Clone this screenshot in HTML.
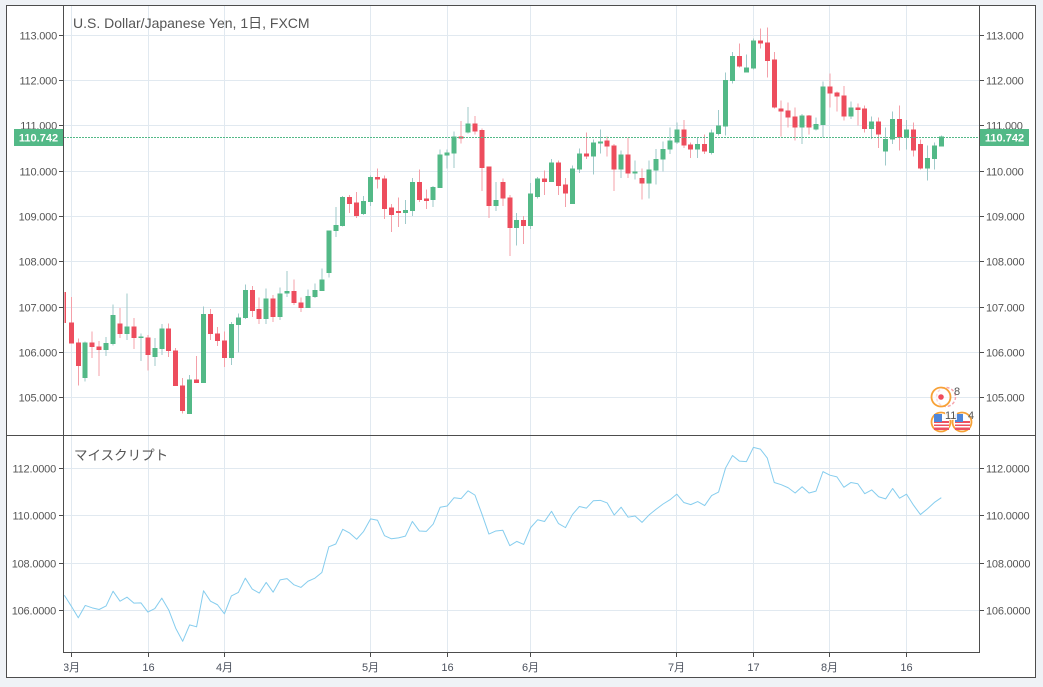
<!DOCTYPE html>
<html><head><meta charset="utf-8"><style>
html,body{margin:0;padding:0;background:#eff2f6;}
svg{display:block;font-family:"Liberation Sans","Noto Sans CJK JP",sans-serif;}
</style></head><body>
<svg width="1043" height="687" viewBox="0 0 1043 687" xmlns="http://www.w3.org/2000/svg">
<defs>
<clipPath id="cm"><rect x="64" y="6" width="915" height="429"/></clipPath>
<clipPath id="cl"><rect x="64" y="436" width="915" height="216"/></clipPath>
<clipPath id="ct"><rect x="64" y="653" width="915" height="24"/></clipPath>
</defs>
<rect x="0" y="0" width="1043" height="687" fill="#eff2f6"/>
<rect x="6.5" y="5.5" width="1029" height="672" fill="#ffffff"/>
<!-- grid -->
<g stroke="#e1e9f0" stroke-width="1" shape-rendering="crispEdges">
<line x1="64" x2="979" y1="35.5" y2="35.5"/><line x1="64" x2="979" y1="80.5" y2="80.5"/><line x1="64" x2="979" y1="125.5" y2="125.5"/><line x1="64" x2="979" y1="171.5" y2="171.5"/><line x1="64" x2="979" y1="216.5" y2="216.5"/><line x1="64" x2="979" y1="261.5" y2="261.5"/><line x1="64" x2="979" y1="307.5" y2="307.5"/><line x1="64" x2="979" y1="352.5" y2="352.5"/><line x1="64" x2="979" y1="397.5" y2="397.5"/>
<line x1="64" x2="979" y1="468.5" y2="468.5"/><line x1="64" x2="979" y1="515.5" y2="515.5"/><line x1="64" x2="979" y1="563.5" y2="563.5"/><line x1="64" x2="979" y1="610.5" y2="610.5"/>
<line x1="71.5" x2="71.5" y1="6" y2="652"/><line x1="148.5" x2="148.5" y1="6" y2="652"/><line x1="224.5" x2="224.5" y1="6" y2="652"/><line x1="370.5" x2="370.5" y1="6" y2="652"/><line x1="447.5" x2="447.5" y1="6" y2="652"/><line x1="530.5" x2="530.5" y1="6" y2="652"/><line x1="676.5" x2="676.5" y1="6" y2="652"/><line x1="753.5" x2="753.5" y1="6" y2="652"/><line x1="829.5" x2="829.5" y1="6" y2="652"/><line x1="906.5" x2="906.5" y1="6" y2="652"/>
</g>
<!-- candles -->
<g clip-path="url(#cm)">
<g transform="matrix(1 0 0 -45.33 0 5157.29)" shape-rendering="crispEdges">
<path fill="none" stroke="#9fcaca" stroke-width="1" vector-effect="non-scaling-stroke" d="M85.22,106.24V105.36M106.1,106.34V105.92M113.06,107.06V106.15M126.98,107.3V106.27M140.9,106.42V105.81M154.82,106.32V105.7M161.78,106.62V105.94M189.62,105.5V104.64M203.54,107.01V105.32M231.38,106.67V105.72M238.34,106.86V106M245.3,107.5V106.74M266.18,107.41V106.62M280.1,107.43V106.71M287.06,107.79V107.22M307.94,107.39V106.98M314.9,107.52V107.2M321.86,107.85V107.35M328.82,108.69V107.65M335.78,109.21V108.54M342.74,109.45V108.78M363.62,109.45V109.03M370.58,109.9V109.23M405.38,109.36V108.83M412.34,109.85V109.01M433.22,109.67V109.21M440.18,110.47V109.63M447.14,110.47V110.05M454.1,110.87V110.07M468.02,111.41V110.83M495.86,109.76V109.12M516.74,109.07V108.36M530.66,109.74V108.72M537.62,109.87V109.39M551.54,110.27V109.76M572.42,110.12V109.27M579.38,110.5V109.96M593.3,110.7V109.92M600.26,110.92V110.39M621.14,110.45V109.85M635.06,110.23V109.81M648.98,110.23V109.39M655.94,110.49V109.7M662.9,110.65V109.99M669.86,110.96V110.38M676.82,111.07V110.6M697.7,110.74V110.29M711.62,110.91V110.36M718.58,111.35V110.78M725.54,112.17V110.78M732.5,112.63V111.93M746.42,112.57V112.17M753.38,112.92V112.24M802.1,111.26V110.6M816.02,111.18V110.89M822.98,111.97V110.74M850.82,111.53V111.15M871.7,111.2V110.71M885.62,110.96V110.12M892.58,111.31V110.6M906.5,111.13V110.47M927.38,110.56V109.79M934.34,110.63V110.03M941.3,110.78V110.54"/>
<path fill="none" stroke="#f4a0a9" stroke-width="1" vector-effect="non-scaling-stroke" d="M71.3,107.22V106.19M78.26,106.31V105.27M92.18,106.46V105.87M99.14,106.25V105.48M120.02,106.98V106.32M133.94,106.76V106.07M147.86,106.38V105.6M168.74,106.64V105.9M175.7,106.1V105.26M182.66,105.43V104.65M196.58,105.92V105.32M210.5,106.96V106.27M217.46,106.56V106.14M224.42,106.46V105.68M252.26,107.46V106.78M259.22,107.21V106.62M273.14,107.26V106.67M294.02,107.61V107.04M300.98,107.21V106.89M349.7,109.47V109.07M356.66,109.54V108.96M377.54,110.05V109.61M384.5,109.9V108.94M391.46,109.27V108.65M398.42,109.41V108.76M419.3,110.03V109.32M426.26,109.59V109.16M461.06,111.1V110.61M474.98,111.21V110.81M481.94,110.94V109.56M488.9,110.1V108.96M502.82,109.83V109.23M509.78,109.47V108.12M523.7,109.01V108.39M544.58,110.01V109.47M558.5,110.23V109.47M565.46,109.85V109.21M586.34,110.85V110.27M607.22,110.76V110.32M614.18,110.59V109.56M628.1,110.74V109.85M642.02,110.05V109.37M683.78,111.13V110.51M690.74,110.63V110.29M704.66,110.8V110.38M739.46,112.81V112.28M760.34,113.14V112.7M767.3,113.16V112.06M774.26,112.63V111.38M781.22,111.55V110.76M788.18,111.51V110.96M795.14,111.4V110.67M809.06,111.24V110.8M829.94,112.15V111.4M836.9,111.75V111.31M843.86,111.88V111.11M857.78,111.49V111M864.74,111.44V110.85M878.66,111.18V110.51M899.54,111.44V110.45M913.46,111.07V110.32M920.42,110.69V110.03"/>
<path fill="#53b987" d="M82.72,105.43h5V106.22h-5zM103.6,106.05h5V106.2h-5zM110.56,106.18h5V106.82h-5zM124.48,106.4h5V106.57h-5zM138.4,106.32h5V106.345h-5zM152.32,105.9h5V106.09h-5zM159.28,106.07h5V106.53h-5zM187.12,104.64h5V105.4h-5zM201.04,105.32h5V106.84h-5zM228.88,105.87h5V106.62h-5zM235.84,106.6h5V106.77h-5zM242.8,106.76h5V107.37h-5zM263.68,106.74h5V107.19h-5zM277.6,106.78h5V107.3h-5zM284.56,107.3h5V107.35h-5zM305.44,106.98h5V107.24h-5zM312.4,107.22h5V107.37h-5zM319.36,107.35h5V107.61h-5zM326.32,107.75h5V108.69h-5zM333.28,108.68h5V108.81h-5zM340.24,108.79h5V109.43h-5zM361.12,109.05h5V109.34h-5zM368.08,109.32h5V109.87h-5zM402.88,109.07h5V109.14h-5zM409.84,109.12h5V109.76h-5zM430.72,109.36h5V109.65h-5zM437.68,109.63h5V110.36h-5zM444.64,110.34h5V110.41h-5zM451.6,110.39h5V110.76h-5zM465.52,110.85h5V111.05h-5zM493.36,109.23h5V109.36h-5zM514.24,108.74h5V108.92h-5zM528.16,108.79h5V109.5h-5zM535.12,109.43h5V109.83h-5zM549.04,109.76h5V110.19h-5zM569.92,109.27h5V110.05h-5zM576.88,110.03h5V110.39h-5zM590.8,110.32h5V110.63h-5zM597.76,110.61h5V110.65h-5zM618.64,110.03h5V110.36h-5zM632.56,109.94h5V109.99h-5zM646.48,109.72h5V110.03h-5zM653.44,110.01h5V110.27h-5zM660.4,110.25h5V110.49h-5zM667.36,110.47h5V110.67h-5zM674.32,110.63h5V110.91h-5zM695.2,110.47h5V110.6h-5zM709.12,110.4h5V110.85h-5zM716.08,110.82h5V111h-5zM723.04,110.98h5V112.01h-5zM730,111.99h5V112.54h-5zM743.92,112.17h5V112.28h-5zM750.88,112.26h5V112.88h-5zM799.6,110.96h5V111.22h-5zM813.52,110.91h5V111.04h-5zM820.48,111.02h5V111.86h-5zM848.32,111.2h5V111.4h-5zM869.2,110.93h5V111.09h-5zM883.12,110.43h5V110.71h-5zM890.08,110.69h5V111.15h-5zM904,110.74h5V110.91h-5zM924.88,110.05h5V110.29h-5zM931.84,110.27h5V110.56h-5zM938.8,110.54h5V110.76h-5z"/>
<path fill="#ed4d5d" d="M64.5,107.33h1.5V106.65h-1.5zM68.8,106.66h5V106.19h-5zM75.76,106.22h5V105.7h-5zM89.68,106.22h5V106.12h-5zM96.64,106.13h5V106.05h-5zM117.52,106.64h5V106.4h-5zM131.44,106.57h5V106.32h-5zM145.36,106.33h5V105.94h-5zM166.24,106.53h5V106.03h-5zM173.2,106.04h5V105.26h-5zM180.16,105.27h5V104.71h-5zM194.08,105.4h5V105.32h-5zM208,106.84h5V106.4h-5zM214.96,106.42h5V106.25h-5zM221.92,106.26h5V105.87h-5zM249.76,107.37h5V106.91h-5zM256.72,106.95h5V106.74h-5zM270.64,107.19h5V106.78h-5zM291.52,107.35h5V107.09h-5zM298.48,107.1h5V106.98h-5zM347.2,109.43h5V109.27h-5zM354.16,109.3h5V109.01h-5zM375.04,109.87h5V109.81h-5zM382,109.83h5V109.16h-5zM388.96,109.19h5V109.03h-5zM395.92,109.12h5V109.07h-5zM416.8,109.76h5V109.36h-5zM423.76,109.39h5V109.34h-5zM458.56,110.76h5V110.72h-5zM472.48,111.05h5V110.87h-5zM479.44,110.9h5V110.07h-5zM486.4,110.1h5V109.23h-5zM500.32,109.76h5V109.39h-5zM507.28,109.41h5V108.74h-5zM521.2,108.92h5V108.79h-5zM542.08,109.83h5V109.76h-5zM556,110.19h5V109.67h-5zM562.96,109.7h5V109.5h-5zM583.84,110.39h5V110.32h-5zM604.72,110.67h5V110.54h-5zM611.68,110.56h5V110.03h-5zM625.6,110.36h5V109.94h-5zM639.52,109.85h5V109.72h-5zM681.28,110.91h5V110.56h-5zM688.24,110.58h5V110.47h-5zM702.16,110.6h5V110.43h-5zM736.96,112.54h5V112.3h-5zM757.84,112.88h5V112.81h-5zM764.8,112.83h5V112.43h-5zM771.76,112.46h5V111.4h-5zM778.72,111.38h5V111.31h-5zM785.68,111.33h5V111.18h-5zM792.64,111.2h5V110.96h-5zM806.56,111.22h5V110.96h-5zM827.44,111.86h5V111.71h-5zM834.4,111.73h5V111.64h-5zM841.36,111.66h5V111.2h-5zM855.28,111.4h5V111.35h-5zM862.24,111.38h5V110.93h-5zM876.16,111.09h5V110.8h-5zM897.04,111.15h5V110.74h-5zM910.96,110.91h5V110.45h-5zM917.92,110.6h5V110.05h-5z"/>
</g>
<line x1="64" x2="979" y1="137.5" y2="137.5" stroke="#53b987" stroke-width="1" stroke-dasharray="2 1"/>
<!-- event icons -->
<g>
<circle cx="946" cy="397" r="9.5" fill="none" stroke="#f6a5ad" stroke-width="1.5" stroke-dasharray="3 2"/>
<circle cx="941" cy="397" r="9.5" fill="#fff" fill-opacity="0.6" stroke="#f7a136" stroke-width="1.8"/>
<circle cx="941" cy="397" r="2.8" fill="#ee4d5c"/>
<text x="954" y="395" font-size="11" fill="#555">8</text>
<circle cx="962" cy="422" r="9.5" fill="#fff" stroke="#f7a136" stroke-width="1.8"/>
<rect x="955" y="421" width="15" height="9" fill="#ee5060"/><rect x="955" y="423" width="15" height="1.5" fill="#fff"/><rect x="955" y="426" width="15" height="1.5" fill="#fff"/>
<rect x="955" y="414" width="8" height="8" fill="#4f86d9"/>
<circle cx="941" cy="422" r="9.5" fill="#fff" stroke="#f7a136" stroke-width="1.8"/>
<rect x="934" y="421" width="15" height="9" fill="#ee5060"/><rect x="934" y="423" width="15" height="1.5" fill="#fff"/><rect x="934" y="426" width="15" height="1.5" fill="#fff"/>
<rect x="934" y="414" width="8" height="8" fill="#4f86d9"/>
<rect x="945" y="411" width="12" height="9" fill="#fff" fill-opacity="0.85"/>
<text x="945" y="419" font-size="11" fill="#555">11</text>
<text x="968" y="419" font-size="11" fill="#555">4</text>
</g>
</g>
<!-- lower pane line -->
<g clip-path="url(#cl)">
<polyline transform="matrix(1 0 0 -23.73 0 3126.06)" fill="none" stroke="#86cdee" stroke-width="1" vector-effect="non-scaling-stroke" stroke-linejoin="round" points="64.34,106.65 71.3,106.19 78.26,105.7 85.22,106.22 92.18,106.12 99.14,106.05 106.1,106.2 113.06,106.82 120.02,106.4 126.98,106.57 133.94,106.32 140.9,106.33 147.86,105.94 154.82,106.09 161.78,106.53 168.74,106.03 175.7,105.26 182.66,104.71 189.62,105.4 196.58,105.32 203.54,106.84 210.5,106.4 217.46,106.25 224.42,105.87 231.38,106.62 238.34,106.77 245.3,107.37 252.26,106.91 259.22,106.74 266.18,107.19 273.14,106.78 280.1,107.3 287.06,107.35 294.02,107.09 300.98,106.98 307.94,107.24 314.9,107.37 321.86,107.61 328.82,108.69 335.78,108.81 342.74,109.43 349.7,109.27 356.66,109.01 363.62,109.34 370.58,109.87 377.54,109.81 384.5,109.16 391.46,109.03 398.42,109.07 405.38,109.14 412.34,109.76 419.3,109.36 426.26,109.34 433.22,109.65 440.18,110.36 447.14,110.41 454.1,110.76 461.06,110.72 468.02,111.05 474.98,110.87 481.94,110.07 488.9,109.23 495.86,109.36 502.82,109.39 509.78,108.74 516.74,108.92 523.7,108.79 530.66,109.5 537.62,109.83 544.58,109.76 551.54,110.19 558.5,109.67 565.46,109.5 572.42,110.05 579.38,110.39 586.34,110.32 593.3,110.63 600.26,110.65 607.22,110.54 614.18,110.03 621.14,110.36 628.1,109.94 635.06,109.99 642.02,109.72 648.98,110.03 655.94,110.27 662.9,110.49 669.86,110.67 676.82,110.91 683.78,110.56 690.74,110.47 697.7,110.6 704.66,110.43 711.62,110.85 718.58,111 725.54,112.01 732.5,112.54 739.46,112.3 746.42,112.28 753.38,112.88 760.34,112.81 767.3,112.43 774.26,111.4 781.22,111.31 788.18,111.18 795.14,110.96 802.1,111.22 809.06,110.96 816.02,111.04 822.98,111.86 829.94,111.71 836.9,111.64 843.86,111.2 850.82,111.4 857.78,111.35 864.74,110.93 871.7,111.09 878.66,110.8 885.62,110.71 892.58,111.15 899.54,110.74 906.5,110.91 913.46,110.45 920.42,110.05 927.38,110.29 934.34,110.56 941.3,110.76"/>
</g>
<!-- frame and axes -->
<g stroke="#4d4d4d" stroke-width="1" fill="none" shape-rendering="crispEdges">
<rect x="6.5" y="5.5" width="1029" height="672"/>
<line x1="63.5" x2="63.5" y1="6" y2="653"/>
<line x1="979.5" x2="979.5" y1="6" y2="653"/>
<line x1="6" x2="1036" y1="435.5" y2="435.5"/>
<line x1="63" x2="980" y1="652.5" y2="652.5"/>
</g>
<!-- ticks -->
<g stroke="#4d4d4d" stroke-width="1" shape-rendering="crispEdges">
<path d="M59,35.5H63M59,80.5H63M59,125.5H63M59,171.5H63M59,216.5H63M59,261.5H63M59,307.5H63M59,352.5H63M59,397.5H63M59,468.5H63M59,515.5H63M59,563.5H63M59,610.5H63"/>
<path d="M980,35.5H984M980,80.5H984M980,125.5H984M980,171.5H984M980,216.5H984M980,261.5H984M980,307.5H984M980,352.5H984M980,397.5H984M980,468.5H984M980,515.5H984M980,563.5H984M980,610.5H984"/>
<path d="M71.5,653V657M148.5,653V657M224.5,653V657M370.5,653V657M447.5,653V657M530.5,653V657M676.5,653V657M753.5,653V657M829.5,653V657M906.5,653V657"/>
</g>
<!-- axis labels -->
<g font-size="11" fill="#555" letter-spacing="-0.2">
<g text-anchor="end">
<text x="57" y="39.5">113.000</text><text x="57" y="84.5">112.000</text><text x="57" y="129.5">111.000</text><text x="57" y="175.5">110.000</text><text x="57" y="220.5">109.000</text><text x="57" y="265.5">108.000</text><text x="57" y="311.5">107.000</text><text x="57" y="356.5">106.000</text><text x="57" y="401.5">105.000</text>
<text x="56" y="472.5">112.0000</text><text x="56" y="519.5">110.0000</text><text x="56" y="567.5">108.0000</text><text x="56" y="614.5">106.0000</text>
</g>
<g>
<text x="986" y="39.5">113.000</text><text x="986" y="84.5">112.000</text><text x="986" y="129.5">111.000</text><text x="986" y="175.5">110.000</text><text x="986" y="220.5">109.000</text><text x="986" y="265.5">108.000</text><text x="986" y="311.5">107.000</text><text x="986" y="356.5">106.000</text><text x="986" y="401.5">105.000</text>
<text x="986" y="472.5">112.0000</text><text x="986" y="519.5">110.0000</text><text x="986" y="567.5">108.0000</text><text x="986" y="614.5">106.0000</text>
</g>
</g>
<!-- price boxes -->
<rect x="14" y="129" width="49" height="17" fill="#53b987"/>
<text x="38.5" y="141.5" font-size="11" font-weight="bold" fill="#fff" text-anchor="middle">110.742</text>
<rect x="980" y="129" width="49" height="17" fill="#53b987"/>
<text x="1004.5" y="141.5" font-size="11" font-weight="bold" fill="#fff" text-anchor="middle">110.742</text>
<!-- time labels -->
<g clip-path="url(#ct)" font-size="11" fill="#4c525e" text-anchor="middle">
<text x="71.5" y="671">3月</text><text x="148.5" y="671">16</text><text x="224.5" y="671">4月</text><text x="370.5" y="671">5月</text><text x="447.5" y="671">16</text><text x="530.5" y="671">6月</text><text x="676.5" y="671">7月</text><text x="753.5" y="671">17</text><text x="829.5" y="671">8月</text><text x="906.5" y="671">16</text>
</g>
<!-- titles -->
<text x="73" y="28" font-size="14" fill="#555">U.S. Dollar/Japanese Yen, 1日, FXCM</text>
<text x="74" y="460" font-size="13.5" fill="#555">マイスクリプト</text>
</svg>
</body></html>
